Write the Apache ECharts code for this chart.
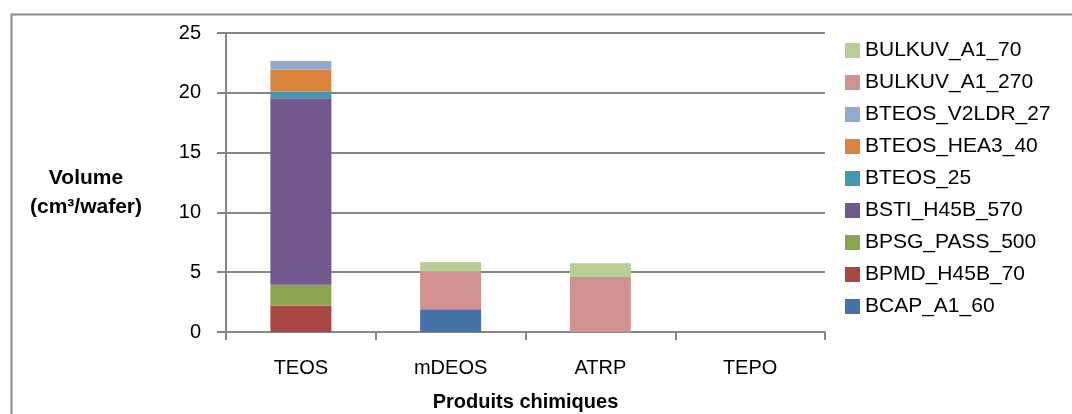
<!DOCTYPE html>
<html>
<head>
<meta charset="utf-8">
<script src="https://cdn.jsdelivr.net/npm/echarts@6/dist/echarts.min.js"></script>
<style>
  html, body { margin: 0; padding: 0; background: #fff; }
  #chart { width: 1072px; height: 414px; }
</style>
</head>
<body>
<div id="chart"></div>
<script>
// 类别与数据
const categories = ['TEOS', 'mDEOS', 'ATRP', 'TEPO'];
const yTicks = [0, 5, 10, 15, 20, 25];

const BCAP_A1_60 = [0, 1.9, 0, 0];
const BPMD_H45B_70 = [2.2, 0, 0, 0];
const BPSG_PASS_500 = [1.75, 0, 0, 0];
const BSTI_H45B_570 = [15.6, 0, 0, 0];
const BTEOS_25 = [0.55, 0, 0, 0];
const BTEOS_HEA3_40 = [1.85, 0, 0, 0];
const BTEOS_V2LDR_27 = [0.7, 0, 0, 0];
const BULKUV_A1_270 = [0, 3.15, 4.6, 0];
const BULKUV_A1_70 = [0, 0.8, 1.15, 0];

const seriesDefs = [
    { name: 'BCAP_A1_60', data: BCAP_A1_60, color: '#4572A7' },
    { name: 'BPMD_H45B_70', data: BPMD_H45B_70, color: '#AA4643' },
    { name: 'BPSG_PASS_500', data: BPSG_PASS_500, color: '#89A54E' },
    { name: 'BSTI_H45B_570', data: BSTI_H45B_570, color: '#71588F' },
    { name: 'BTEOS_25', data: BTEOS_25, color: '#4198AF' },
    { name: 'BTEOS_HEA3_40', data: BTEOS_HEA3_40, color: '#DB843D' },
    { name: 'BTEOS_V2LDR_27', data: BTEOS_V2LDR_27, color: '#93A9CF' },
    { name: 'BULKUV_A1_270', data: BULKUV_A1_270, color: '#D19392' },
    { name: 'BULKUV_A1_70', data: BULKUV_A1_70, color: '#B9CD96' }
];

const chart = echarts.init(document.getElementById('chart'));
const font = 'Liberation Sans';

const option = {
    animation: false,
    backgroundColor: '#fff',
    grid: {
        left: 226,
        right: 247,
        top: 33,
        bottom: 82,
        outerBoundsMode: 'none',
        containLabel: false
    },
    legend: {
        data: seriesDefs.map(s => s.name).reverse(),
        orient: 'vertical',
        left: 845,
        top: 40,
        padding: 0,
        itemWidth: 15,
        itemHeight: 15,
        itemGap: 11,
        icon: 'rect',
        textStyle: {
            fontFamily: font,
            fontSize: 21,
            color: '#000'
        }
    },
    xAxis: {
        type: 'category',
        data: categories,
        name: 'Produits chimiques',
        nameLocation: 'middle',
        nameGap: 60,
        nameTextStyle: {
            fontFamily: font,
            fontSize: 20,
            fontWeight: 'bold',
            color: '#000'
        },
        axisLine: { lineStyle: { color: '#868686', width: 2 } },
        axisTick: { show: true, length: 8, lineStyle: { color: '#868686', width: 2 } },
        axisLabel: {
            fontFamily: font,
            fontSize: 20,
            color: '#000',
            margin: 26
        }
    },
    yAxis: {
        type: 'value',
        min: 0,
        max: 25,
        interval: 5,
        axisLine: { show: true, lineStyle: { color: '#868686', width: 2 } },
        axisTick: { show: true, length: 9, lineStyle: { color: '#868686', width: 2 } },
        splitLine: { lineStyle: { color: '#868686', width: 2 } },
        axisLabel: {
            fontFamily: font,
            fontSize: 20,
            color: '#000',
            margin: 25,
            formatter: function (v) {
                return yTicks.indexOf(v) >= 0 ? String(v) : '';
            }
        }
    },
    graphic: [
        {
            // 外框
            type: 'rect',
            left: 9,
            top: 12,
            shape: { width: 1100, height: 450 },
            style: { fill: 'none', stroke: '#898989', lineWidth: 2 },
            silent: true
        },
        {
            // Y 轴标题
            type: 'text',
            x: 86,
            y: 193,
            style: {
                text: 'Volume\n(cm³/wafer)',
                align: 'center',
                verticalAlign: 'middle',
                lineHeight: 29,
                font: 'bold 21px "Liberation Sans"',
                fill: '#000'
            }
        }
    ],
    series: seriesDefs.map(s => ({
        name: s.name,
        type: 'bar',
        stack: 'total',
        data: s.data,
        barWidth: 61,
        itemStyle: { color: s.color },
        emphasis: { disabled: true }
    }))
};

chart.setOption(option);
</script>
</body>
</html>
